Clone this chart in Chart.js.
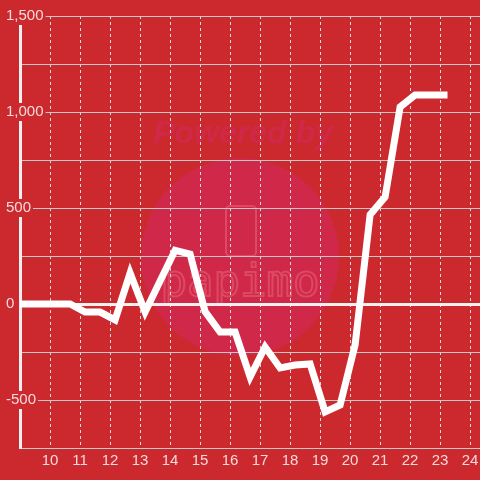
<!DOCTYPE html>
<html>
<head>
<meta charset="utf-8">
<script src="https://cdn.jsdelivr.net/npm/chart.js@4"></script>
<style>
  html, body { margin: 0; padding: 0; background: #cc292e; }
  #wrap { width: 480px; height: 480px; position: relative; }
</style>
</head>
<body>
<div id="wrap"><canvas id="chart"></canvas></div>
<script>
/* ---------- DATA ---------- */
const hours = [8.67, 9.17, 9.67, 10.17, 10.67, 11.17, 11.67, 12.17, 12.67, 13.17,
  13.67, 14.17, 14.67, 15.17, 15.67, 16.17, 16.67, 17.17, 17.67, 18.17,
  18.67, 19.17, 19.67, 20.17, 20.67, 21.17, 21.67, 22.17, 22.67, 23.25];
const values = [0, 0, 0, 0, 0, -42, -42, -83, 161, -42,
  120, 280, 260, -40, -146, -146, -380, -224, -333, -318,
  -312, -562, -526, -213, 465, 557, 1026, 1089, 1089, 1089];
const xTicks = [10, 11, 12, 13, 14, 15, 16, 17, 18, 19, 20, 21, 22, 23, 24];
const yLabels = [-500, 0, 500, 1000, 1500];

const bg = "#cc292e";
const textColor = "#f4dada";

/* ---------- WATERMARK ---------- */
const watermark = {
  id: "watermark",
  beforeDraw(chart) {
    const ctx = chart.ctx;
    ctx.save();
    ctx.fillStyle = bg;
    ctx.fillRect(0, 0, chart.width, chart.height);

    ctx.fillStyle = "rgba(212,40,120,0.35)";
    ctx.beginPath();
    ctx.arc(240, 257, 99, 0, Math.PI * 2);
    ctx.fill();

    ctx.font = "italic bold 32px 'Liberation Sans'";
    ctx.textAlign = "center";
    ctx.textBaseline = "middle";
    ctx.fillText("Powered by", 243, 134);

    ctx.strokeStyle = "rgba(255,150,160,0.3)";
    ctx.lineWidth = 2;
    ctx.beginPath();
    ctx.roundRect(226, 206, 30, 50, 4);
    ctx.stroke();
    ctx.font = "44px 'DejaVu Sans Mono'";
    ctx.strokeText("papimo", 240, 285);
    ctx.restore();
  }
};

/* ---------- CHART ---------- */
new Chart(document.getElementById("chart"), {
  type: "line",
  data: {
    datasets: [{
      data: hours.map((h, i) => ({ x: h, y: values[i] })),
      borderColor: "#ffffff",
      borderWidth: 7,
      pointRadius: 0,
      tension: 0,
      fill: false
    }]
  },
  options: {
    responsive: true,
    maintainAspectRatio: false,
    animation: false,
    layout: { padding: { top: 16, left: 0, right: 0, bottom: 0 } },
    plugins: { legend: { display: false }, tooltip: { enabled: false } },
    scales: {
      x: {
        type: "linear",
        min: 9,
        max: 24.333,
        afterFit: s => { s.height = 32; s.paddingLeft = 0; s.paddingRight = 0; },
        afterBuildTicks: s => { s.ticks = [9].concat(xTicks).map(v => ({ value: v })); },
        ticks: {
          includeBounds: false,
          padding: 4,
          color: textColor,
          font: { family: "'Liberation Sans'", size: 15 },
          callback: v => (xTicks.includes(v) ? String(v) : "")
        },
        grid: { color: "#dcdcdc", lineWidth: 1, drawTicks: false },
        border: { display: true, color: "#c8c8c8", width: 1, dash: [3, 3] }
      },
      y: {
        min: -750,
        max: 1500,
        afterFit: s => { s.width = 20; s.paddingTop = 0; s.paddingBottom = 0; },
        ticks: {
          stepSize: 250,
          mirror: true,
          padding: -14,
          color: textColor,
          font: { family: "'Liberation Sans'", size: 15 },
          showLabelBackdrop: true,
          backdropPadding: { top: 0, bottom: 0, left: 2, right: 2 },
          backdropColor: c => (yLabels.includes(c.tick.value) ? bg : "rgba(0,0,0,0)"),
          callback: v => (yLabels.includes(v) ? v.toLocaleString("en-US") : "")
        },
        grid: {
          drawTicks: false,
          color: c => (c.tick.value === 0 ? "#f4f0f0" : "#c8c8c8"),
          lineWidth: c => (c.tick.value === 0 ? 3 : 1)
        },
        border: { display: true, color: "#f4f0f0", width: 3 }
      }
    }
  },
  plugins: [watermark]
});
</script>
</body>
</html>
